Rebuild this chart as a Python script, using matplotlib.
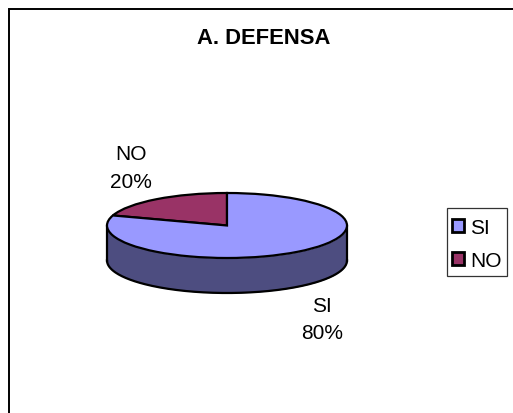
import numpy as np
import matplotlib
matplotlib.use('Agg')
import matplotlib.pyplot as plt
from matplotlib.patches import Rectangle

labels = ['SI', 'NO']
values = [80, 20]
colors = ['#9999FF', '#993366']
side_color = '#4D4D80'

W, H = 513, 414
plt.rcParams['font.family'] = ['Liberation Sans', 'DejaVu Sans']

fig = plt.figure(figsize=(W / 100, H / 100), dpi=100)
fig.patches.append(Rectangle((8.5 / W, -0.01), 1.1, 1.01 - 9.5 / H, transform=fig.transFigure,
                             facecolor='white', edgecolor='black', linewidth=1.4, zorder=-1))

# pie axes, squashed so that the circle becomes the top ellipse
cx, cy, rx, ry, depth = 227, 226.5, 120, 32.5, 35
ax = fig.add_axes([(cx - rx) / W, 1 - (cy + ry + depth) / H, 2 * rx / W, (2 * ry + depth) / H])

# pie starts with NO going up from 12 o'clock, SI takes the rest
wedges, _ = ax.pie(values[::-1], colors=colors[::-1], startangle=90, counterclock=True,
                   wedgeprops=dict(edgecolor='black', linewidth=1.6), radius=1)
wedges[0].set_zorder(3)
wedges[1].set_zorder(3)

d = depth / ry
t = np.linspace(np.pi, 2 * np.pi, 200)
ax.fill_between(np.cos(t), np.sin(t), np.sin(t) - d, color=side_color, zorder=1, linewidth=0)
ax.plot(np.cos(t), np.sin(t) - d, color='black', lw=1.6, zorder=2)
ax.plot([-1, -1], [0, -d], color='black', lw=1.6, zorder=2)
ax.plot([1, 1], [0, -d], color='black', lw=1.6, zorder=2)

ax.set_aspect('auto')
ax.set_xlim(-1, 1)
ax.set_ylim(-1 - d, 1)
ax.axis('off')
for a in ax.get_children():
    a.set_clip_on(False)

def px_text(x, y, s, **kw):
    fig.text(x / W, 1 - y / H, s, ha='center', va='center', **kw)

px_text(263.5, 39, 'A. DEFENSA', fontsize=15.8, fontweight='bold')
px_text(131, 168.5, f'{labels[1]}\n{values[1]}%', fontsize=15, linespacing=1.58)
px_text(322, 320, f'{labels[0]}\n{values[0]}%', fontsize=15, linespacing=1.58)

# legend box drawn apart, its padding differs in x and y
fig.patches.append(Rectangle((446.5 / W, 1 - 277 / H), 60.5 / W, 68 / H, transform=fig.transFigure,
                             facecolor='white', edgecolor='#333333', linewidth=0.9, zorder=0.5))
handles = [Rectangle((0, 0), 1, 1, facecolor=c, edgecolor='black', linewidth=2) for c in colors]
leg = fig.legend(handles, labels, loc='center', bbox_to_anchor=(477 / W, 1 - 245 / H),
                 fontsize=15, frameon=False, handlelength=0.55, handleheight=0.55,
                 handletextpad=0.32, labelspacing=0.66, borderpad=0, borderaxespad=0)

fig.savefig('out.png', dpi=100)
